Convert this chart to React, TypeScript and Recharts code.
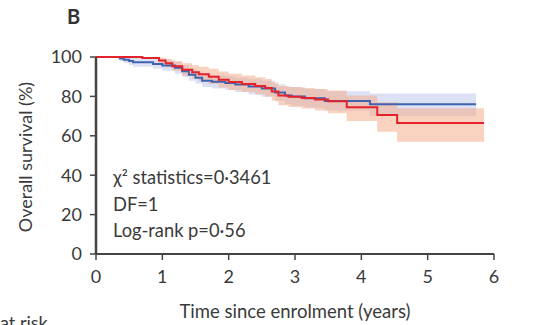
import { ComposedChart, Area, Line, XAxis, YAxis } from "recharts";

// Kaplan-Meier steps (time in years, survival in %)
const blueTime = [0, 0.36, 0.42, 0.5, 0.56, 0.86, 1.0, 1.19, 1.3, 1.4, 1.5, 1.6, 1.75, 1.95, 2.1, 2.3, 2.5, 2.7, 2.85, 2.95, 3.15, 3.45, 4.13, 5.73];
const blueSurv = [100, 99.3, 98.6, 98, 97.3, 96.5, 95.7, 94.5, 92.8, 91, 89.5, 88, 87.5, 86.8, 86, 85, 84, 82, 80.5, 80, 79, 77.7, 76, 76];
const blueLo = [100, 98, 96.8, 96, 95, 94, 93, 91.5, 89.8, 88, 86.5, 84.8, 84, 83.2, 82.2, 81, 79.8, 77.5, 76, 75.3, 74.2, 72.8, 70, 69.5];
const blueHi = [100, 100, 100, 99.8, 99.5, 99, 98.4, 97.4, 95.9, 94.2, 92.8, 91.3, 90.9, 90.3, 89.6, 88.8, 87.9, 86.2, 85, 84.6, 83.7, 82.6, 81.5, 81.5];

const redTime = [0, 0.7, 0.95, 1.05, 1.15, 1.3, 1.45, 1.55, 1.7, 1.85, 2.0, 2.2, 2.4, 2.55, 2.65, 2.75, 2.9, 3.1, 3.3, 3.5, 3.78, 4.24, 4.54, 5.85];
const redSurv = [100, 99.5, 98.2, 96.8, 95.3, 93.5, 92.3, 91.2, 90, 88.5, 87.3, 86.3, 85.3, 84.3, 82.5, 80.5, 79.8, 79.2, 78.4, 77.5, 74.5, 70.5, 66.5, 66.5];
const redLo = [100, 99, 96.5, 94.8, 93, 90.5, 89, 87.8, 86.3, 84.5, 83.3, 82.2, 81, 79.8, 77.8, 75.5, 74.6, 73.8, 72.8, 71.5, 67.5, 62, 57, 57];
const redHi = [100, 100, 99.8, 99, 98, 96.8, 95.8, 95, 94, 92.7, 91.5, 90.6, 89.7, 88.8, 87, 85.3, 84.8, 84.3, 83.7, 83, 80.5, 77, 74, 74];

const xTicks = [0, 1, 2, 3, 4, 5, 6];
const yTicks = [0, 20, 40, 60, 80, 100];

const statLines = ["χ² statistics=0·3461", "DF=1", "Log-rank p=0·56"];

const blueData = blueTime.map((t, i) => ({ t, s: blueSurv[i], band: [blueLo[i], blueHi[i]] }));
const redData = redTime.map((t, i) => ({ t, s: redSurv[i], band: [redLo[i], redHi[i]] }));

const FONT = "Lato, 'Open Sans', sans-serif";
const AXIS = "#444";
const TXT = "#3a3a3a";
const tick = { fontSize: 18, fill: TXT, fontFamily: FONT };

export default function App() {
  return (
    <div
      style={{
        position: "absolute",
        left: 0,
        top: 0,
        width: 539,
        height: 325,
        overflow: "hidden",
        background: "#fff",
        fontFamily: FONT,
        color: TXT,
      }}
    >
      <ComposedChart width={539} height={325} margin={{ top: 57, right: 45, bottom: 41, left: 0 }}>
        <XAxis
          type="number"
          dataKey="t"
          domain={[0, 6]}
          ticks={xTicks}
          height={30}
          tick={tick}
          tickSize={6}
          tickMargin={10}
          axisLine={{ stroke: AXIS, strokeWidth: 2 }}
          tickLine={{ stroke: AXIS, strokeWidth: 1.5 }}
          allowDataOverflow
        />
        <YAxis
          type="number"
          domain={[0, 100]}
          ticks={yTicks}
          width={96}
          tick={tick}
          tickSize={6}
          tickMargin={8}
          axisLine={{ stroke: AXIS, strokeWidth: 2.5 }}
          tickLine={{ stroke: AXIS, strokeWidth: 1.5 }}
        />
        <Area
          data={blueData}
          dataKey="band"
          type="stepAfter"
          stroke="none"
          fill="#b9c6ea"
          fillOpacity={0.5}
          isAnimationActive={false}
        />
        <Area
          data={redData}
          dataKey="band"
          type="stepAfter"
          stroke="none"
          fill="#f6a582"
          fillOpacity={0.5}
          isAnimationActive={false}
        />
        <Line
          data={blueData}
          dataKey="s"
          type="stepAfter"
          stroke="#3f63b0"
          strokeWidth={2}
          dot={false}
          isAnimationActive={false}
        />
        <Line
          data={redData}
          dataKey="s"
          type="stepAfter"
          stroke="#e4222b"
          strokeWidth={2}
          dot={false}
          isAnimationActive={false}
        />
      </ComposedChart>

      <div style={{ position: "absolute", left: 67, top: 4, fontSize: 20, fontWeight: 700, color: "#333" }}>B</div>

      <div
        style={{
          position: "absolute",
          left: 25,
          top: 157,
          transform: "translate(-50%, -50%) rotate(-90deg)",
          whiteSpace: "nowrap",
          fontSize: 18,
        }}
      >
        Overall survival (%)
      </div>

      <div
        style={{
          position: "absolute",
          left: 295,
          top: 311,
          transform: "translate(-50%, -50%)",
          whiteSpace: "nowrap",
          fontSize: 18.5,
        }}
      >
        Time since enrolment (years)
      </div>

      {statLines.map((s, i) => (
        <div
          key={i}
          style={{
            position: "absolute",
            left: 113,
            top: 177 + i * 26.5,
            transform: "translateY(-50%)",
            whiteSpace: "nowrap",
            fontSize: 18.3,
          }}
        >
          {s}
        </div>
      ))}

      <div style={{ position: "absolute", left: 0, top: 311, fontSize: 18, whiteSpace: "nowrap" }}>
        at risk
      </div>
    </div>
  );
}
